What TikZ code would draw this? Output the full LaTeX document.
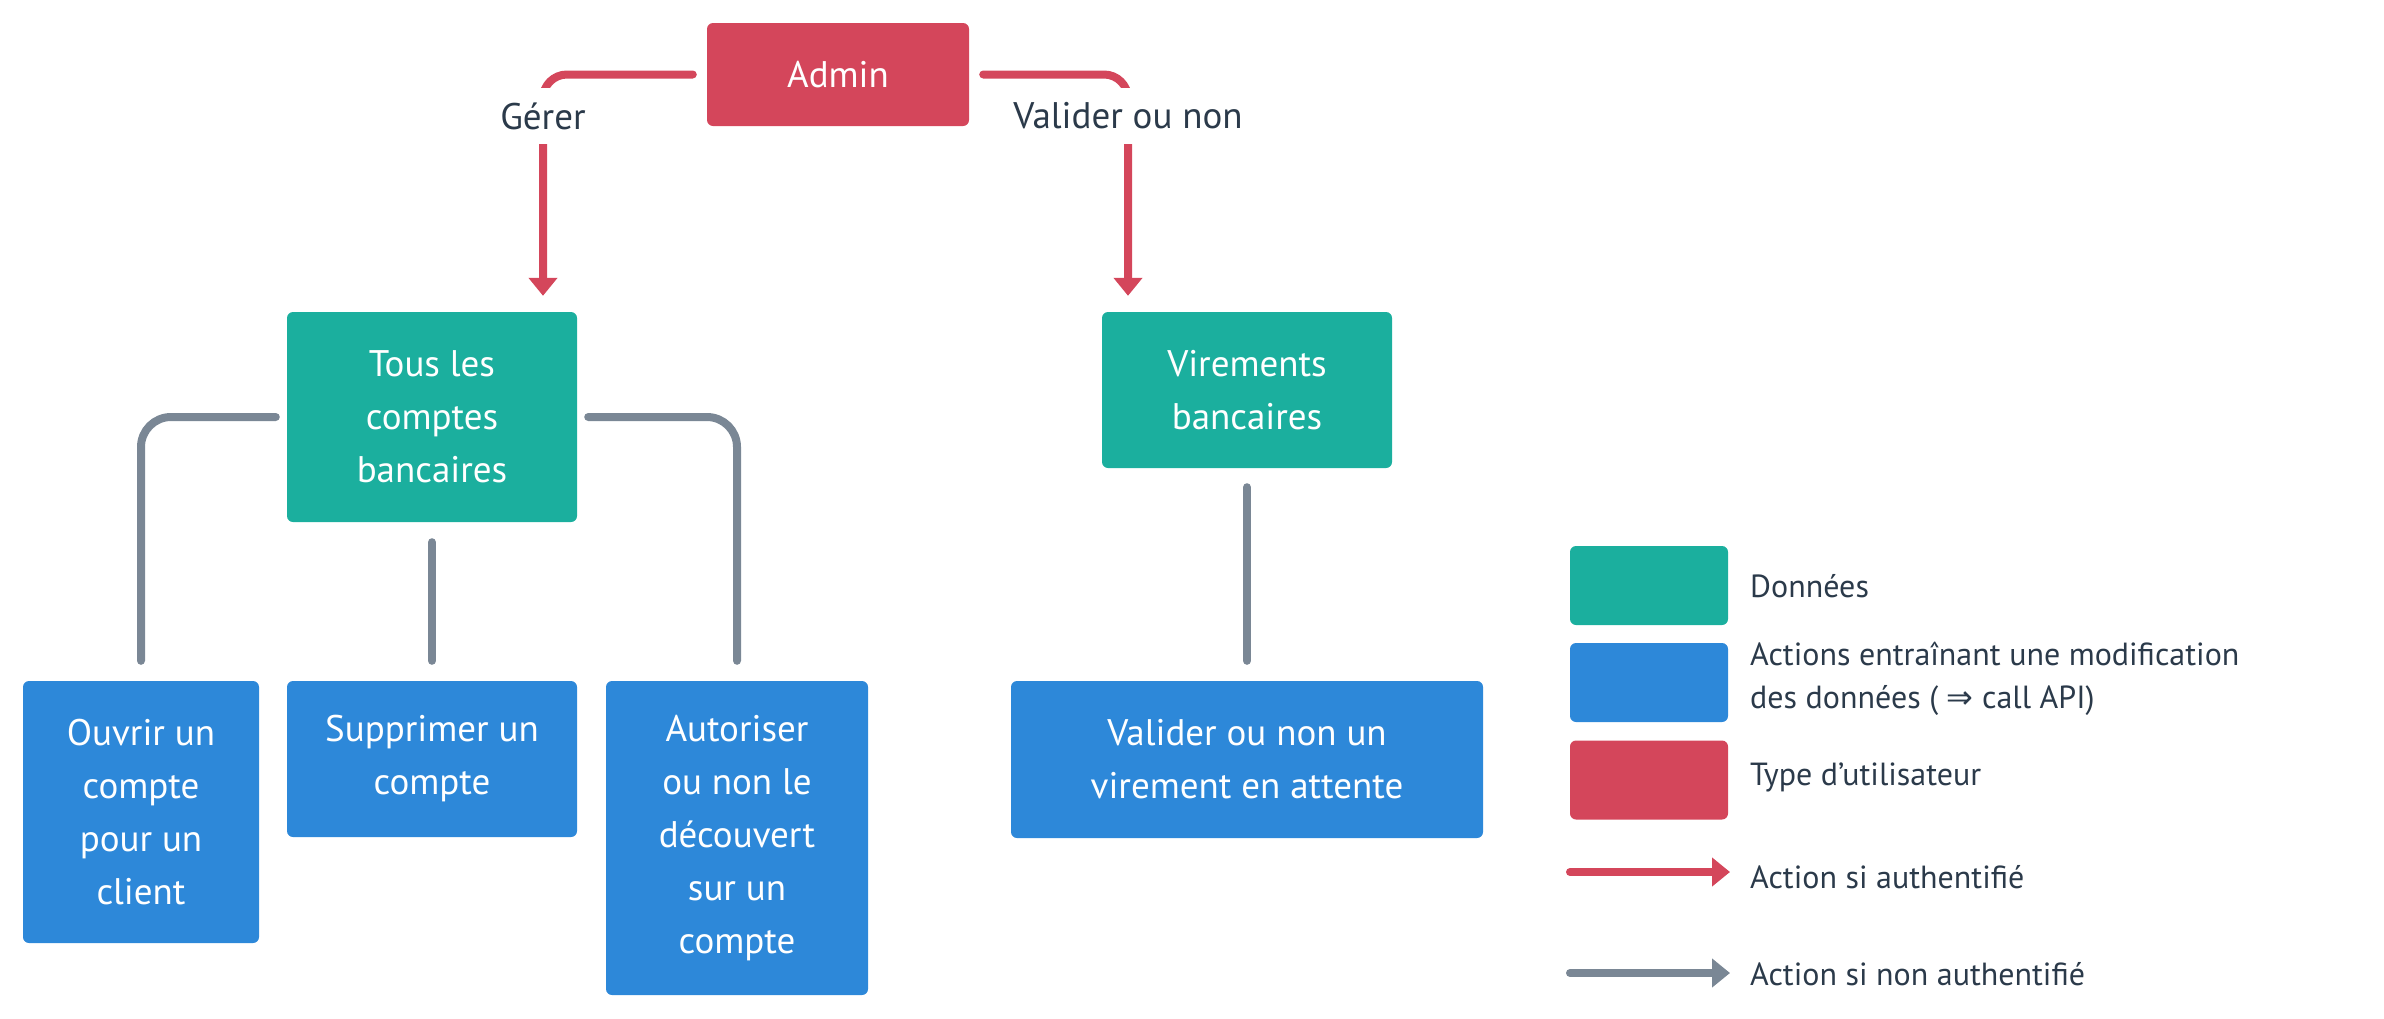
\documentclass[tikz,border=0pt]{standalone}
\usepackage{fontspec}
\setmainfont{PT Sans}
\newfontfamily\symfont{DejaVu Sans}
\usetikzlibrary{arrows.meta}

\definecolor{adminred}{HTML}{D4465B}
\definecolor{datateal}{HTML}{1BAF9E}
\definecolor{actionblue}{HTML}{2D88D9}
\definecolor{linkgrey}{HTML}{7A8795}
\definecolor{inkdark}{HTML}{2B3A4A}

\newcommand{\boxfont}{\fontsize{37}{53}\selectfont}
\newcommand{\labelfont}{\fontsize{37}{44}\selectfont}
\newcommand{\legendfont}{\fontsize{32}{43}\selectfont}

\tikzset{
  box/.style 2 args={draw=none, rounded corners=6pt, minimum width=#1pt,
    minimum height=#2pt, inner sep=0pt, align=center, text=white, font=\boxfont},
  userbox/.style={fill=adminred},
  databox/.style={fill=datateal},
  actionbox/.style={fill=actionblue},
  lbl/.style={fill=white, text=inkdark, font=\labelfont, inner xsep=4pt,
    inner ysep=0pt, minimum height=56pt},
  legtext/.style={anchor=west, inner sep=0pt, text=inkdark, font=\legendfont, align=left},
  redlink/.style={draw=adminred, line width=8pt, line cap=round, rounded corners=24pt,
    -{Triangle[width=28pt,length=18pt]}},
  greylink/.style={draw=linkgrey, line width=8pt, line cap=round, rounded corners=30pt},
  greyarrow/.style={draw=linkgrey, line width=8pt, line cap=round,
    -{Triangle[width=28pt,length=18pt]}},
  redarrow/.style={draw=adminred, line width=8pt, line cap=round,
    -{Triangle[width=28pt,length=18pt]}},
}

\begin{document}
\begin{tikzpicture}[x=1pt, y=-1pt]
\useasboundingbox (0,0) rectangle (2384,1018);

% user type
\node[box={262}{103}, userbox] (admin) at (838,74.5) {Admin};

% data
\node[box={290}{210}, databox] (tous) at (432,417) {Tous les\\comptes\\bancaires};
\node[box={290}{156}, databox] (vir) at (1247,390) {Virements\\bancaires};

% actions
\node[box={236}{262}, actionbox] (ouvrir) at (141,812) {Ouvrir un\\compte\\pour un\\client};
\node[box={290}{156}, actionbox] (suppr) at (432,759) {Supprimer un\\compte};
\node[box={262}{314}, actionbox] (autor) at (737,838) {Autoriser\\ou non le\\découvert\\sur un\\compte};
\node[box={472}{157}, actionbox] (valid) at (1247,759.5) {Valider ou non un\\virement en attente};

% label positions
\coordinate (gpos) at (543,116);
\coordinate (vpos) at (1128,116);

% admin links
\path (gpos |- tous.north) ++(0,-16) coordinate (gtip);
\path (vpos |- vir.north) ++(0,-16) coordinate (vtip);
\path (admin.west) ++(-14,0) coordinate (astartl);
\path (admin.east) ++(14,0) coordinate (astartr);
\draw[redlink] (astartl) -| (gtip);
\draw[redlink] (astartr) -| (vtip);
\node[lbl] (gerer) at (gpos) {Gérer};
\node[lbl] (valider) at (vpos) {Valider ou non};

% data to action links
\path (tous.west) ++(-11,0) coordinate (tl);
\path (tous.east) ++(11,0) coordinate (tr);
\path (ouvrir.north) ++(0,-20) coordinate (oe);
\path (autor.north) ++(0,-20) coordinate (ae);
\draw[greylink] (tl) -| (oe);
\draw[greylink] (tr) -| (ae);
\draw[greylink, shorten <=20pt, shorten >=20pt] (tous.south) -- (tous.south |- suppr.north);
\draw[greylink, shorten <=19pt, shorten >=20pt] (vir.south) -- (vir.south |- valid.north);

% legend
\node[box={158}{79}, databox] (kdata) at (1649,585.5) {};
\node[box={158}{79}, actionbox] (kaction) at (1649,682.5) {};
\node[box={158}{79}, userbox] (kuser) at (1649,780) {};
\node[legtext] (tdata) at (1750,586) {Données};
\node[legtext] (taction) at (1750,679) {Actions entraînant une modification\\des données ( {\symfont ⇒} call API)};
\node[legtext] (tuser) at (1750,777) {Type d’utilisateur};
\coordinate (ra1) at (1570,872);
\coordinate (ra2) at (1730,872);
\coordinate (ga1) at (1570,973);
\coordinate (ga2) at (1730,973);
\draw[redarrow] (ra1) -- (ra2);
\draw[greyarrow] (ga1) -- (ga2);
\node[legtext] (tauth) at (1750,877) {Action si authentifié};
\node[legtext] (tnauth) at (1750,974) {Action si non authentifié};
\end{tikzpicture}
\end{document}
